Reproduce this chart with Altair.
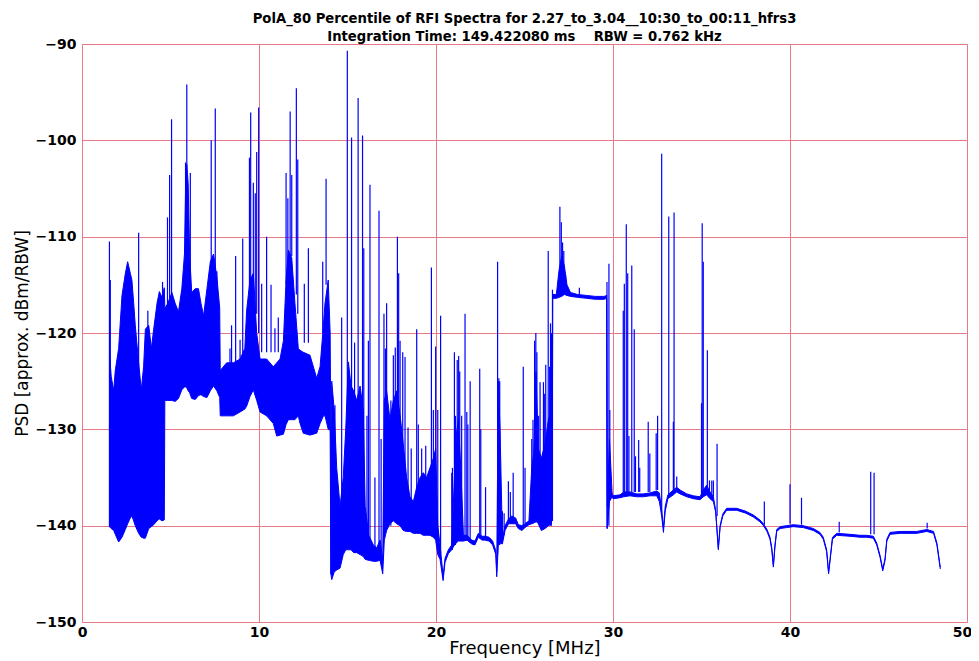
import altair as alt
import pandas as pd

TITLE_1 = "PolA_80 Percentile of RFI Spectra for 2.27_to_3.04__10:30_to_00:11_hfrs3"
TITLE_2 = "Integration Time: 149.422080 ms\u00a0\u00a0\u00a0\u00a0RBW = 0.762 kHz"
X_TITLE = "Frequency [MHz]"
Y_TITLE = "PSD [approx. dBm/RBW]"
X_TICKS = [0, 10, 20, 30, 40, 50]
Y_TICKS = [-150, -140, -130, -120, -110, -100, -90]

# ---- spectrum envelope (frequency MHz, lower dB, upper dB) ----
band_f = [
    1.55, 1.65, 1.79, 1.88, 2.07, 2.26, 2.45, 2.58, 2.73, 2.82, 2.92, 3.01, 3.20, 3.35, 3.48, 3.58,
    3.77, 3.92, 4.05, 4.24, 4.37, 4.52, 4.65,
    4.68, 4.83, 5.08, 5.26, 5.45, 5.64, 5.79, 5.86, 5.92, 6.00, 6.08, 6.20, 6.40, 6.58, 6.72, 6.87,
    7.06, 7.25, 7.43, 7.62, 7.78,
    7.81, 8.17, 8.55, 8.93, 9.20, 9.30, 9.49, 9.68, 9.87, 10.06, 10.43, 10.81, 11.00, 11.19, 11.38,
    11.53, 11.66, 11.85, 12.03, 12.22, 12.32, 12.50, 12.88, 13.26, 13.45, 13.64, 13.73, 13.91, 14.02,
    14.06, 14.11, 14.25, 14.39, 14.58, 14.76, 14.90, 15.05, 15.20, 15.35, 15.52, 15.71, 15.89, 16.00,
    16.20, 16.46, 16.65, 16.84, 16.99, 17.08, 17.21, 17.40, 17.59, 17.78, 17.97, 18.15, 18.34, 18.53,
    18.72, 18.91, 19.10, 19.28, 19.47, 19.66, 19.85, 19.98, 20.10, 20.23, 20.40, 20.51, 20.70, 20.89,
    21.04, 21.15, 21.26, 21.40, 21.55, 21.75, 22.02, 22.20, 22.39, 22.60, 22.77, 23.00, 23.20, 23.38,
    23.43, 23.52, 23.62, 23.75, 23.90, 24.10, 24.28, 24.50, 24.65, 24.85, 25.03, 25.25, 25.41, 25.52,
    25.65, 25.78, 25.95, 26.16, 26.35, 26.54, 26.57,
    26.59, 26.80, 26.95, 27.10, 27.25, 27.40, 27.60, 28.00, 28.50, 29.00, 29.50, 29.64,
    29.68, 29.80, 29.95,
    30.00, 30.40, 30.60, 30.96, 31.34, 31.71, 32.09, 32.47, 32.62, 32.75, 32.85, 32.95, 33.10, 33.41,
    33.60, 33.79, 34.17, 34.54, 34.92, 35.10, 35.29, 35.48, 35.67,
    35.80, 35.95, 36.05, 36.20, 36.42, 36.99, 37.50, 37.93, 38.30, 38.50, 38.70, 38.87, 38.97, 39.06,
    39.15, 39.25, 39.44, 39.81, 40.19, 40.75, 41.32, 41.69, 41.88, 42.07, 42.18, 42.26, 42.40, 42.64,
    43.39, 43.96, 44.33, 44.71, 44.90, 45.09, 45.24, 45.37, 45.47, 45.65, 46.22, 47.16, 47.73, 48.11,
    48.30, 48.49,
]
band_lo = [
    -140.1, -140.3, -140.5, -140.9, -141.7, -141.2, -140.4, -139.8, -139.2, -139.0, -139.5, -140.0,
    -140.8, -141.2, -141.3, -141.3, -140.3, -140.1, -139.9, -139.5, -139.3, -139.5, -139.4,
    -127.0, -127.0, -127.0, -127.1, -126.8, -125.9, -125.6, -125.6, -125.7, -126.0, -126.2, -126.8,
    -126.9, -126.5, -126.4, -126.6, -126.7, -126.0, -125.5, -126.0, -126.7,
    -128.6, -128.6, -128.6, -128.2, -127.9, -127.6, -126.6, -125.9, -127.0, -128.2, -128.6, -129.4,
    -130.7, -130.6, -130.5, -129.5, -129.0, -129.0, -129.0, -128.6, -129.4, -130.4, -130.6, -130.4,
    -129.4, -128.6, -128.6, -130.0, -130.1,
    -145.0, -145.6, -144.8, -144.6, -144.4, -143.0, -142.5, -142.5, -142.5, -142.8, -142.8, -143.0,
    -143.2, -143.5, -143.6, -143.7, -143.7, -143.6, -145.0, -141.5, -140.5, -139.8, -139.5, -139.8,
    -140.0, -140.5, -140.6, -140.6, -140.8, -140.8, -140.8, -141.0, -141.0, -141.0, -141.2, -141.5,
    -143.0, -143.5, -145.7, -143.8, -142.9, -142.5, -142.0, -141.8, -141.6, -141.6, -141.6, -141.5,
    -141.9, -142.0, -141.2, -141.5, -141.5, -141.6, -142.0, -143.0, -145.3, -142.0, -141.8, -141.9,
    -140.5, -139.8, -139.8, -139.8, -140.3, -140.5, -140.2, -139.9, -139.8, -139.7, -139.5, -139.8,
    -140.5, -140.3, -140.0, -139.5, -139.5,
    -116.4, -116.4, -116.3, -116.2, -116.0, -116.1, -116.2, -116.3, -116.4, -116.5, -116.5, -116.4,
    -140.3, -137.5, -137.0,
    -137.2, -137.1, -137.0, -136.9, -137.0, -137.0, -136.9, -136.9, -137.5, -139.0, -140.7, -138.5,
    -137.2, -136.8, -136.5, -136.7, -137.0, -137.2, -137.3, -137.0, -136.8, -137.2, -137.5,
    -138.6, -142.5, -140.2, -139.0, -138.4, -138.4, -138.7, -139.1, -139.6, -140.0, -140.6, -141.4,
    -142.5, -144.3, -142.2, -140.6, -140.3, -140.2, -140.1, -140.2, -140.5, -140.9, -141.4, -142.7,
    -145.0, -143.7, -141.4, -141.0, -141.1, -141.2, -141.2, -141.3, -142.0, -143.3, -144.7, -143.6,
    -141.6, -140.9, -140.8, -140.8, -140.6, -140.8, -142.0, -144.5,
]
band_hi = [
    -122.0, -124.5, -126.0, -123.9, -121.6, -116.1, -113.8, -112.6, -113.8, -114.5, -116.9, -119.2,
    -123.1, -125.9, -123.5, -119.6, -119.2, -121.6, -119.6, -116.9, -115.7, -116.3, -115.3,
    -117.4, -117.0, -115.8, -116.9, -117.8, -115.4, -111.8, -104.0, -102.5, -104.5, -111.8, -115.8,
    -115.4, -115.4, -116.9, -118.2, -115.4, -112.6, -111.8, -114.2, -117.4,
    -123.9, -123.1, -123.1, -122.7, -121.6, -117.7, -114.5, -113.8, -120.0, -122.7, -122.7, -123.5,
    -123.1, -122.7, -120.8, -114.5, -111.4, -112.2, -116.9, -121.6, -121.8, -122.0, -122.3, -124.7,
    -123.5, -119.2, -116.9, -114.5, -120.0,
    -131.0, -125.0, -128.0, -134.0, -138.0, -135.0, -130.0, -123.0, -125.5, -126.0, -127.0, -125.5,
    -128.0, -138.0, -141.0, -142.0, -142.3, -141.5, -143.5, -127.0, -126.0, -129.0, -127.0, -126.0,
    -128.5, -131.5, -135.0, -137.0, -137.5, -136.0, -135.0, -134.5, -135.0, -134.0, -133.0, -132.0,
    -140.0, -142.0, -145.2, -143.4, -142.5, -142.0, -135.0, -130.5, -129.0, -134.0, -141.0, -141.0,
    -141.5, -141.6, -140.8, -141.1, -141.1, -141.2, -141.6, -142.6, -144.8, -125.0, -130.0, -141.4,
    -140.0, -139.3, -139.0, -139.2, -139.9, -140.0, -139.8, -139.5, -134.0, -132.5, -124.0, -132.0,
    -133.0, -131.5, -129.0, -128.0, -139.0,
    -116.0, -116.0, -113.5, -112.0, -113.0, -115.0, -115.8, -116.0, -116.1, -116.2, -116.2, -116.1,
    -138.0, -131.0, -136.6,
    -136.9, -136.8, -136.5, -136.5, -136.7, -136.7, -136.6, -136.4, -136.6, -138.4, -140.2, -138.0,
    -136.8, -136.3, -136.0, -136.3, -136.7, -136.9, -137.0, -136.3, -135.8, -136.5, -137.0,
    -138.4, -142.3, -140.0, -138.8, -138.2, -138.2, -138.5, -138.9, -139.4, -139.8, -140.4, -141.2,
    -142.3, -144.1, -142.0, -140.4, -140.1, -140.0, -139.9, -140.0, -140.3, -140.7, -141.2, -142.5,
    -144.8, -143.5, -141.2, -140.8, -140.9, -141.0, -141.0, -141.1, -141.8, -143.1, -144.5, -143.4,
    -141.4, -140.7, -140.6, -140.6, -140.4, -140.6, -141.8, -144.3,
]

# ---- narrow spikes (frequency MHz, base dB, peak dB) ----
spike_f = [
    1.55, 1.60, 3.20, 3.72, 4.55,
    4.83, 4.95, 5.06, 5.85, 5.92, 6.12, 7.30, 7.53, 7.62,
    8.36, 8.45, 8.68, 8.93, 9.08, 9.46, 9.53, 9.68, 9.79, 9.87, 9.98, 10.15, 10.43, 10.68, 10.90,
    11.09, 11.53, 11.63, 11.76, 11.85, 12.11, 12.19, 12.56, 12.79, 13.60, 13.79,
    14.06, 14.29, 14.67, 14.99, 15.23, 15.40, 15.60, 15.85, 15.92, 16.10, 16.18, 16.27, 16.55, 16.78,
    16.90, 17.06, 17.14, 17.21, 17.45, 17.59, 17.70, 17.82, 17.89, 17.97, 18.12, 18.25, 18.42, 18.60,
    18.91, 19.00, 19.19, 19.42, 19.74, 19.85, 19.98, 20.10, 20.26,
    20.89, 20.93, 21.04, 21.10, 21.20, 21.28, 21.34, 21.45, 21.64, 21.74, 21.80, 21.93, 22.47, 22.53,
    22.80, 23.48, 23.55, 23.60, 23.75, 23.85, 24.09, 24.20, 24.36, 24.93, 25.03, 25.41, 25.48, 25.57,
    25.64, 25.70, 25.80, 25.88, 25.98, 26.07, 26.14, 26.20, 26.34, 26.42, 26.47, 26.52, 26.58,
    27.00, 27.08, 27.15, 27.22, 27.32, 28.10, 29.66, 29.77, 29.82,
    30.58, 30.64, 30.75, 30.83, 30.90, 31.06, 31.20, 31.27, 31.45, 31.51, 31.99, 32.08, 32.44, 32.52,
    32.75, 33.15, 33.41, 33.45, 33.60, 35.00, 35.04, 35.10, 35.33, 35.45, 35.58, 35.67, 35.88,
    38.55, 40.00, 40.65, 42.78, 44.56, 44.75, 47.75,
]
spike_base = [
    -140.1, -138.0, -135.0, -128.0, -125.0,
    -125.0, -125.0, -125.0, -124.0, -124.0, -122.0, -122.0, -122.0, -120.0,
    -124.0, -124.0, -124.0, -124.0, -123.0, -118.0, -118.0, -118.0, -118.0, -118.0, -120.0, -122.0,
    -122.0, -122.0, -122.0, -122.0, -115.0, -115.0, -112.0, -112.0, -116.0, -118.0, -121.0, -121.0,
    -120.0, -115.0,
    -145.0, -140.0, -142.0, -142.0, -140.0, -140.0, -140.0, -140.0, -141.0, -143.0, -143.0, -143.0,
    -143.0, -143.0, -143.0, -141.0, -140.0, -140.0, -140.0, -139.5, -139.5, -139.5, -139.5, -140.0,
    -140.0, -140.0, -140.0, -140.0, -140.5, -140.5, -140.5, -140.8, -141.0, -141.0, -141.0, -142.0,
    -143.0,
    -142.5, -142.5, -142.0, -142.0, -141.6, -141.6, -141.6, -141.6, -141.6, -141.6, -141.6, -141.8,
    -141.2, -141.2, -141.5, -143.0, -142.0, -142.0, -141.5, -141.0, -139.8, -139.5, -139.5, -140.0,
    -139.8, -139.8, -139.8, -139.7, -139.7, -139.5, -139.7, -139.7, -140.0, -140.0, -140.0, -140.0,
    -140.0, -140.0, -140.0, -140.0, -139.5,
    -116.0, -116.0, -116.0, -116.0, -116.0, -116.0, -140.3, -140.0, -137.0,
    -136.5, -136.5, -136.5, -136.5, -136.5, -136.5, -136.5, -136.5, -136.5, -136.5, -136.5, -136.5,
    -136.3, -136.3, -139.0, -137.0, -136.5, -136.5, -136.0, -137.0, -137.0, -137.0, -136.5, -136.5,
    -137.0, -137.0, -139.0,
    -139.9, -139.8, -139.9, -140.7, -140.9, -140.9, -140.3,
]
spike_top = [
    -110.5, -114.5, -109.6, -117.7, -114.7,
    -108.0, -103.6, -97.8, -102.3, -94.2, -103.4, -100.0, -96.7, -113.6,
    -121.6, -119.2, -112.0, -120.7, -110.2, -101.8, -97.1, -104.4, -105.5, -101.2, -96.6, -114.9,
    -110.0, -115.0, -119.5, -118.4, -103.4, -106.0, -97.0, -103.6, -94.6, -102.0, -114.9, -111.2,
    -112.6, -104.0,
    -130.0, -127.5, -118.4, -90.7, -99.7, -121.0, -95.6, -99.5, -111.2, -128.6, -120.8, -104.6,
    -135.0, -107.3, -131.0, -118.0, -121.6, -116.9, -127.0, -122.3, -121.5, -110.0, -113.8, -120.8,
    -122.0, -122.5, -129.8, -132.0, -119.6, -129.5, -132.0, -131.7, -113.2, -128.0, -121.4, -128.0,
    -118.2,
    -134.5, -134.0, -122.0, -128.6, -122.8, -122.4, -124.0, -128.6, -118.0, -128.2, -129.5, -125.0,
    -123.7, -130.0, -136.0, -112.6, -124.7, -125.0, -138.5, -138.7, -135.4, -136.5, -134.5, -123.5,
    -134.0, -131.0, -129.0, -120.8, -120.0, -122.0, -128.6, -125.1, -135.8, -125.1, -126.3, -123.3,
    -111.5, -123.5, -119.0, -120.0, -115.5,
    -106.9, -108.5, -110.6, -111.5, -114.0, -115.3, -114.7, -112.8, -128.0,
    -117.7, -114.9, -108.7, -113.8, -130.7, -113.0, -119.6, -132.8, -131.1, -134.0, -129.2, -132.5,
    -130.4, -128.6, -101.4, -107.9, -129.2, -107.5, -134.9, -127.3, -108.6, -112.6, -121.8, -135.3,
    -135.3, -135.3, -131.5,
    -137.5, -135.7, -137.1, -139.6, -134.4, -134.5, -139.7,
]

band = pd.DataFrame({"f": band_f, "lo": band_lo, "hi": band_hi})
spikes = pd.DataFrame({"f": spike_f, "base": spike_base, "top": spike_top})

BLUE = "#0000ff"
FONT = "DejaVu Sans"
GRID = "#e57a86"

x_scale = alt.Scale(domain=[0, 50], nice=False, zero=False)
y_scale = alt.Scale(domain=[-150, -90], nice=False, zero=False)

x_axis = alt.Axis(
    values=X_TICKS, title=X_TITLE, format="d",
    labelFont=FONT, labelFontSize=14, labelFontWeight="bold", labelColor="black",
    labelPadding=3, labelFlush=False,
    labelOffset=alt.expr("datum.value == 50 ? -5 : 0"),
    titleFont=FONT, titleFontSize=18, titleFontWeight="normal", titleColor="black",
    titleBaseline="middle", titleY=26,
    grid=True, gridColor=GRID, gridWidth=1, ticks=False, domain=False,
)
y_axis = alt.Axis(
    values=Y_TICKS, title=Y_TITLE,
    labelExpr="replace(format(datum.value, 'd'), '-', '\u2212')",
    labelFont=FONT, labelFontSize=14, labelFontWeight="bold", labelColor="black",
    labelPadding=6, labelFlush=False,
    titleFont=FONT, titleFontSize=17, titleFontWeight="normal", titleColor="black",
    titleBaseline="middle", titleAlign="center", titleX=-60, titleY=289, titleAngle=-90,
    grid=True, gridColor=GRID, gridWidth=1, ticks=False, domain=False,
)

base = alt.Chart(band)

area = base.mark_area(color=BLUE, opacity=1, interpolate="linear").encode(
    x=alt.X("f:Q", scale=x_scale, axis=x_axis),
    y=alt.Y("lo:Q", scale=y_scale, axis=y_axis),
    y2="hi:Q",
)
line_lo = base.mark_line(color=BLUE, strokeWidth=1).encode(x="f:Q", y="lo:Q")
line_hi = base.mark_line(color=BLUE, strokeWidth=1).encode(x="f:Q", y="hi:Q")
rules = alt.Chart(spikes).mark_rule(color=BLUE, strokeWidth=1.2).encode(
    x="f:Q", y="base:Q", y2="top:Q"
)

chart = (
    alt.layer(area, line_lo, line_hi, rules)
    .properties(
        width=885,
        height=578,
        title=alt.Title(
            [TITLE_1, TITLE_2],
            font=FONT, fontSize=13.2, fontWeight="bold", color="black",
            anchor="middle", offset=-7, lineHeight=18,
        ),
        autosize=alt.AutoSizeParams(type="none"),
        padding={"left": 74, "top": 36, "right": 4, "bottom": 36},
    )
    .configure_view(stroke="black", strokeWidth=1)
    .configure(background="white")
)

chart.save("out.html", embed_options={"renderer": "svg", "actions": False})
